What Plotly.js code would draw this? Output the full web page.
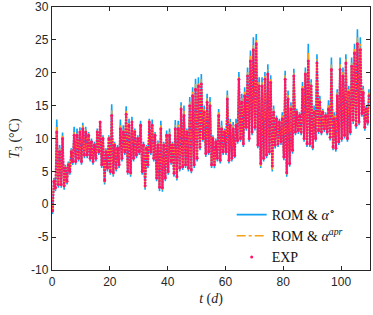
<!DOCTYPE html>
<html><head><meta charset="utf-8">
<script src="https://cdn.plot.ly/plotly-3.0.1.min.js"></script>
<style>html,body{margin:0;padding:0;background:#fff}#c{width:373px;height:315px}</style>
</head><body><div id="c"></div>
<script>
// Daily minima / maxima (°C) for each day 0..109
var expMin=[-1,2.5,3,3,2.8,3.5,5,6.5,6.5,7,6.5,7.5,7.5,7,6.5,7,8,6,3.6,5.5,5,4.8,5.5,6,7,8,5,4.8,7,7.5,8,5,2.8,6,8,7,4,2.6,2.5,4,5,6.5,4.7,4.2,5.5,5.7,6,5.5,5.2,6,7,8.7,10,7.7,8,6,6,7,6.7,8,8,6.7,7,7.4,9.7,10,9.2,11.7,10,11,11.7,9,6.2,7,7.5,8,5.8,9,9.2,9.5,7.2,4.8,6.2,8.2,11,11.2,11,10,9.2,9.2,8.7,10,11.2,11,11.5,11,10.2,8.7,8.5,9.5,10,10.5,10,11,12.8,12,12.5,13.8,11.7,12.5];
var expMax=[3.5,11,8,10,5.5,6,8,10.5,10.5,11,11.5,11,10.5,9.5,9,11,12.5,10,8,10,13.5,9,8.5,11.5,11,13.7,12,12.5,11,10,12,9,8.5,12.5,12,10.5,9,11.5,9,10.5,10.5,9,11.5,11.5,14.5,13.5,11,15,16.5,17.5,18,18.3,14,15.5,15,10,9.5,13.5,11.5,11,16,12,11.5,12,19,15.5,16.5,19.5,21.8,23.5,24.4,18,18,19,19.8,18.5,14,13,12.5,13,19,16,14.5,19.5,14,13.5,17.5,19.8,21.8,18,14,21.5,15.5,14,13.5,14.5,20.5,13,16.5,20.5,19.5,21.5,17,21,23,24.4,23.5,17,14.5,16.5];
var romMin=[-1.5,2,2.5,2.5,2.2,3,4.5,6,6,6.5,6,7,7,6.5,6,6.5,7.5,5.5,3,5,4.5,4.2,5,5.5,6.5,7.5,4.5,4.2,6.5,7,7.5,4.5,2.2,5.5,7.5,6.5,3.5,2,1.9,3.5,4.5,6,4.2,3.6,5,5.2,5.5,5,4.7,5.5,6.5,8.2,9.5,7.2,7.5,5.5,5.5,6.5,6.2,7.5,7.5,6.2,6.5,7,9.2,9.5,8.7,11.2,9.5,10.5,11.2,8.5,5.5,6.5,7,7.5,5,8.5,8.7,9,6.7,4.2,5.7,7.7,10.5,10.7,10.5,9.5,8.7,8.7,8.2,9.5,10.7,10.5,11,10.5,9.7,8.2,8,9,9.5,10,9.5,10.5,12.2,11.5,12,13.3,11.2,12];
var romMax=[4,12.9,9,10.9,6,6.5,8.5,11.8,11.5,11.7,12.4,11.8,11,10,9.5,11.5,12.6,10.5,8.5,10.5,15.2,9.5,9,12.9,12,14.9,13,13.3,11.5,10.5,12.7,9.5,9,13,12.9,11,9.7,12.7,9.5,11.2,11.5,9.5,12.8,12.7,15.5,15,11.5,16.3,17.8,19.1,19.3,19.8,15,16.8,16.3,10.5,10,14.5,12.7,11.5,17.3,13,12.5,13,20.1,16.8,17.8,20.8,23.4,25.4,25.9,19.3,19.3,20.1,21.3,19.6,15,13.5,13,14,20.3,17.3,15.5,20.6,14.5,14,18.6,20.8,24.4,19,15,22.8,16.5,14.5,14,15.8,22.3,14,17.5,22.3,20.8,22.8,18,22.3,24.4,26.6,25.4,18,15,17.5];
var aprMin=[-1.2,2.3,2.8,2.8,2.5,3.3,4.8,6.3,6.3,6.8,6.3,7.3,7.3,6.8,6.3,6.8,7.8,5.8,3.3,5.3,4.8,4.5,5.3,5.8,6.8,7.8,4.8,4.5,6.8,7.3,7.8,4.8,2.5,5.8,7.8,6.8,3.8,2.3,2.2,3.8,4.8,6.3,4.5,3.9,5.3,5.5,5.8,5.3,5,5.8,6.8,8.5,9.8,7.5,7.8,5.8,5.8,6.8,6.5,7.8,7.8,6.5,6.8,7.2,9.5,9.8,9,11.5,9.8,10.8,11.5,8.8,5.8,6.8,7.3,7.8,5.3,8.8,9,9.3,7,4.4,6,8,10.8,11,10.8,9.8,9,9,8.5,9.8,11,10.8,11.3,10.8,10,8.5,8.3,9.3,9.8,10.3,9.8,10.8,12.5,11.8,12.3,13.6,11.5,12.3];
var aprMax=[3.8,11.8,8.5,10.4,5.8,6.3,8.3,11,11,11.3,12,11.4,10.8,9.8,9.3,11.3,12.6,10.3,8.3,10.3,14.3,9.3,8.8,12.1,11.5,14.2,12.5,12.9,11.3,10.3,12.3,9.3,8.8,12.8,12.4,10.8,9.4,12,9.3,10.8,11,9.3,12.1,12.1,15,14.2,11.3,15.6,17.1,18.3,18.6,19,14.5,16.1,15.6,10.3,9.8,14,12.1,11.3,16.6,12.5,12,12.5,19.5,16.1,17.1,20.1,22.6,24.4,25.1,18.6,18.6,19.5,20.5,19,14.5,13.3,12.8,13.5,19.6,16.6,15,20,14.3,13.8,18,20.3,23,18.5,14.5,22.1,16,14.3,13.8,15.1,21.3,13.5,17,21.3,20.1,22.1,17.5,21.6,23.6,25.5,24.4,17.5,14.8,17];
var yTicks=[-10,-5,0,5,10,15,20,25,30];
var xTicks=[0,20,40,60,80,100];

function series(mins,maxs){
  var x=[],y=[];
  for(var d=0; d<mins.length; d++){
    x.push(d+0.2); y.push(mins[d]);
    x.push(d+0.65); y.push(maxs[d]);
  }
  return {x:x,y:y};
}
var rom=series(romMin,romMax), apr=series(aprMin,aprMax), exp=series(expMin,expMax);
var blue='#12a2f2', orange='#f4a21a', pink='#ff1468';
var traces=[
 {x:rom.x,y:rom.y,type:'scatter',mode:'lines',name:'ROM &amp; <i>α</i><sup>∘</sup>',line:{color:blue,width:1.6}},
 {x:apr.x,y:apr.y,type:'scatter',mode:'lines',name:'ROM &amp; <i>α</i><sup><i>apr</i></sup>',line:{color:orange,width:1.6,dash:'dashdot'}},
 {x:exp.x,y:exp.y,type:'scatter',mode:'lines',showlegend:false,line:{color:pink,width:2.2,dash:'2px,1px'},hoverinfo:'skip'},
 {x:exp.x,y:exp.y,type:'scatter',mode:'markers',name:'EXP',marker:{color:pink,size:3}}
];
var ax={showgrid:false,zeroline:false,showline:true,mirror:'ticks',linecolor:'#262626',linewidth:1.2,
  ticks:'inside',ticklen:4,tickcolor:'#262626',ticklabeloverflow:'allow',
  tickfont:{family:'Liberation Sans, Arial',size:12,color:'#262626'}};
var layout={
 width:373,height:315,margin:{l:52,r:3,t:7,b:45},paper_bgcolor:'#fff',plot_bgcolor:'#fff',
 xaxis:Object.assign({},ax,{range:[0,110],tickmode:'array',tickvals:xTicks,ticktext:xTicks.map(String),
   title:{text:'<i>t</i> (<i>d</i>)',font:{family:'Liberation Serif, Times New Roman',size:14,color:'#262626'},standoff:5}}),
 yaxis:Object.assign({},ax,{range:[-10,30],tickmode:'array',tickvals:yTicks,ticktext:yTicks.map(String),
   title:{text:'<i>T</i><sub>3</sub> (°C)',font:{family:'Liberation Serif, Times New Roman',size:14,color:'#262626'},standoff:8}}),
 legend:{x:0.565,y:0.27,xanchor:'left',yanchor:'top',bgcolor:'rgba(255,255,255,0)',borderwidth:0,
   font:{family:'Liberation Serif, Times New Roman',size:14,color:'#111'},tracegroupgap:0},
 showlegend:true
};
Plotly.newPlot('c',traces,layout,{displayModeBar:false,staticPlot:true});
</script></body></html>
